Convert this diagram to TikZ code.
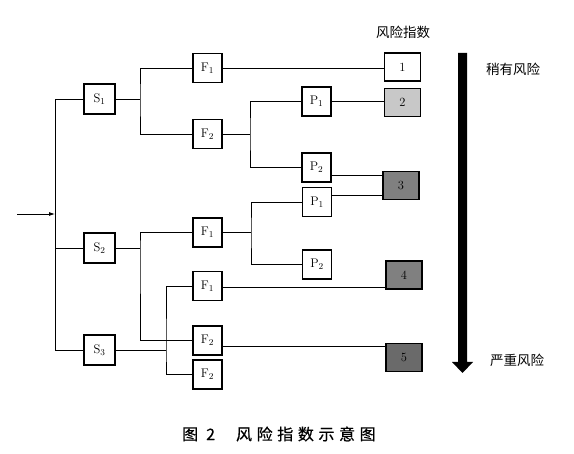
\documentclass[tikz,border=0pt]{standalone}
\usepackage{fontspec}
\newfontfamily\cjk{Noto Sans CJK SC}
\newfontfamily\cjkcap[FakeBold=0.6]{Noto Sans CJK SC}
\usetikzlibrary{arrows.meta}
\definecolor{gA}{HTML}{C8C8C8}
\definecolor{gB}{HTML}{808080}
\definecolor{gC}{HTML}{6A6A6A}
\begin{document}
\begin{tikzpicture}[x=1pt,y=-1pt,
  box/.style={draw,line width=1.5pt,minimum width=29pt,minimum height=29pt,inner sep=0pt,font=\fontsize{12.5}{13}\selectfont},
  sbox/.style={box,minimum width=31pt,minimum height=30pt},
  rbox/.style={box,minimum width=36pt,minimum height=28pt},
  ln/.style={line width=0.8pt},
  lab/.style={font=\cjk\fontsize{13.5}{14}\selectfont,inner sep=0pt}]
\useasboundingbox (0,0) rectangle (574,454);
% nodes
\node[sbox] (S1) at (99.5,99) {$\mathrm{S}_1$};
\node[sbox] (S2) at (99.5,248) {$\mathrm{S}_2$};
\node[sbox] (S3) at (99.5,350) {$\mathrm{S}_3$};
\node[box] (F1a) at (207.5,68) {$\mathrm{F}_1$};
\node[box] (F2a) at (207.5,134) {$\mathrm{F}_2$};
\node[box] (F1b) at (207.5,232.5) {$\mathrm{F}_1$};
\node[box] (F1c) at (207.5,286) {$\mathrm{F}_1$};
\node[box] (F2b) at (207.5,340.5) {$\mathrm{F}_2$};
\node[box] (F2c) at (207.5,374.5) {$\mathrm{F}_2$};
\node[box] (P1a) at (316.5,101.5) {$\mathrm{P}_1$};
\node[box] (P2a) at (316.5,167.5) {$\mathrm{P}_2$};
\node[box] (P1b) at (317,202) {$\mathrm{P}_1$};
\node[box] (P2b) at (317,264.5) {$\mathrm{P}_2$};
\node[rbox] (R1) at (402.5,67) {1};
\node[rbox,fill=gA] (R2) at (402.5,102.5) {2};
\node[rbox,fill=gB] (R3) at (401,185.5) {3};
\node[rbox,fill=gB] (R4) at (404,275) {4};
\node[rbox,fill=gC] (R5) at (404,357.5) {5};
% junction coordinates
\coordinate (in) at (17,214);
\coordinate (b1) at (55,99);
\coordinate (b2) at (55,214);
\coordinate (b3) at (55,350);
\coordinate (j1) at (140,99);
\coordinate (j2) at (250,134);
\coordinate (j3) at (140,248);
\coordinate (j4) at (251,232.5);
\coordinate (j5) at (166,350);
% connectors
\draw[ln,-{Latex[length=6pt,width=4pt]}] (in) -- (b2);
\draw[ln] (S1.west) -| (b1) -- (b3) -- (S3.west);
\draw[ln] (S2.west) -- (S2.west -| b1);
\draw[ln] (S1.east) -- (j1);
\draw[ln] (F1a.west) -| (j1) |- (F2a.west);
\draw[ln] (F1a.east) -- (F1a.east -| R1.west);
\draw[ln] (F2a.east) -- (j2);
\draw[ln] (P1a.west) -| (j2) |- (P2a.west);
\draw[ln] (P1a.east) -- (P1a.east -| R2.west);
\draw[ln] ([yshift=-7.5pt]P2a.east) -- ([yshift=-7.5pt]P2a.east -| R3.west);
\draw[ln] ([yshift=7pt]P1b.east) -- ([yshift=7pt]P1b.east -| R3.west);
\draw[ln] (S2.east) -- (j3);
\draw[ln] (F1b.west) -| (j3) |- (F2b.west);
\draw[ln] (F1b.east) -- (j4);
\draw[ln] (P1b.west) -| (j4) |- (P2b.west);
\draw[ln] (S3.east) -- (j5);
\draw[ln] (F1c.west) -| (j5) |- (F2c.west);
\draw[ln] ([yshift=-1pt]F1c.east) -- ([yshift=-1pt]F1c.east -| R4.west);
\draw[ln] ([yshift=-5.5pt]F2b.east) -- ([yshift=-5.5pt]F2b.east -| R5.west);
% big arrow
\fill (458,53) -- (467,53) -- (467,362) -- (473,362) -- (462.5,373) -- (452,362) -- (458,362) -- cycle;
% labels
\node[lab] (t1) at (403,32) {风险指数};
\node[lab] (t2) at (513,69) {稍有风险};
\node[lab] (t3) at (517,360) {严重风险};
\node[anchor=west,inner sep=0pt,font=\cjkcap\fontsize{16}{18}\selectfont] (cap) at (182,434)
  {图\hspace{8pt}2\hspace{21pt}风\hspace{4.6pt}险\hspace{4.6pt}指\hspace{4.6pt}数\hspace{4.6pt}示\hspace{4.6pt}意\hspace{4.6pt}图};
\end{tikzpicture}
\end{document}
